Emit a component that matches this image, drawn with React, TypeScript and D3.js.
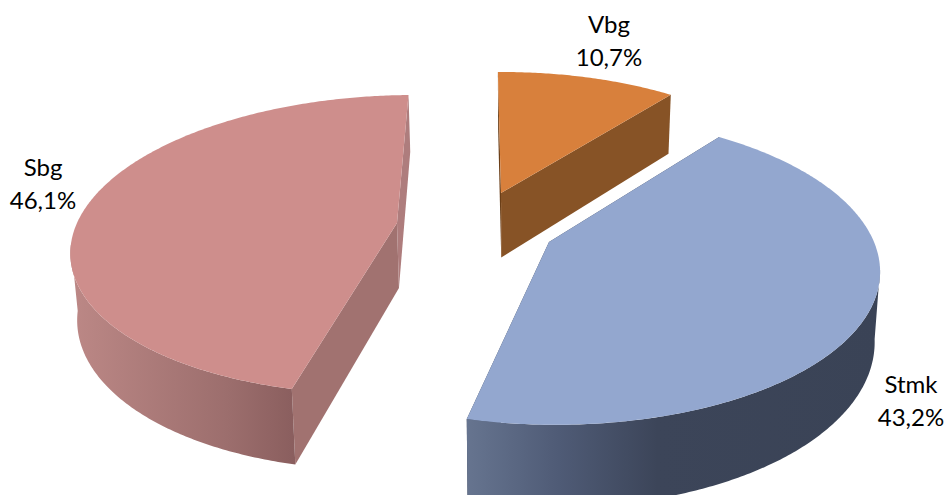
import React from "react";
import * as d3 from "d3";

const categories = ["Vbg", "Stmk", "Sbg"];
const shares = [10.7, 43.2, 46.1];
const shareLabels = ["10,7%", "43,2%", "46,1%"];

// Layout of each exploded slice: apex on screen, radii, perspective factor, depth
const apexX = [501, 549, 397];
const apexY = [193, 242, 223];
const radiusX = [303, 325, 320];
const radiusY = [135.5, 150.8, 146.4];
const tilt = [0.12, 0.175, 0.144];
const offsetX = [-15, 30, -130];
const depth = [64.5, 68, 65];
const topColors = ["#d8803c", "#93a7cf", "#ce8e8c"];
const startFaceColors = ["#6b3f18", "#3a4356", "#a17270"];
const endFaceColors = ["#875326", "#3a4356", "#ae7d7d"];
const labelX = [609, 911, 43];
const labelY = [33, 393, 176];

const W = 944;
const H = 495;
const ROTATION = (-1 * Math.PI) / 180;
const DEPTH_SCALE = 0.985;

type P = [number, number];

function project(i: number, angle: number, radial: number, lower: boolean): P {
  const u = radial * Math.sin(angle);
  const v = -radial * Math.cos(angle);
  const w = 1 - tilt[i] * v;
  const xc = apexX[i] - offsetX[i];
  let x = xc + (offsetX[i] + radiusX[i] * u) / w;
  let y = apexY[i] + (radiusY[i] * v) / w;
  if (lower) {
    x = xc + (x - xc) * DEPTH_SCALE;
    y += depth[i] / w;
  }
  return [x, y];
}

function rim(i: number, a0: number, a1: number, lower: boolean): P[] {
  const n = Math.max(2, Math.ceil(Math.abs(a1 - a0) / 0.01));
  return d3.range(n + 1).map((k) => project(i, a0 + ((a1 - a0) * k) / n, 1, lower));
}

const poly = d3.line<P>().x((d) => d[0]).y((d) => d[1]);
const closed = (pts: P[]) => (poly(pts) as string) + "Z";

export default function App() {
  const arcs = d3
    .pie<number>()
    .sort(null)
    .startAngle(ROTATION)
    .endAngle(ROTATION + 2 * Math.PI)(shares);

  return (
    <svg
      width={W}
      height={H}
      viewBox={`0 0 ${W} ${H}`}
      style={{ position: "absolute", left: 0, top: 0, background: "#fff", overflow: "hidden" }}
    >
      <defs>
        <linearGradient id="wall1" gradientUnits="userSpaceOnUse" x1={468} x2={880} y1={0} y2={0}>
          <stop offset="0" stopColor="#66748f" />
          <stop offset="0.22" stopColor="#4f5b76" />
          <stop offset="0.46" stopColor="#3c4559" />
          <stop offset="1" stopColor="#3a4356" />
        </linearGradient>
        <linearGradient id="wall2" gradientUnits="userSpaceOnUse" x1={71} x2={295} y1={0} y2={0}>
          <stop offset="0" stopColor="#bc8886" />
          <stop offset="0.7" stopColor="#9c6e6d" />
          <stop offset="1" stopColor="#8a5e5e" />
        </linearGradient>
      </defs>
      {[2, 1, 0].map((i) => {
        const { startAngle: a0, endAngle: a1 } = arcs[i];
        const apexTop = project(i, 0, 0, false);
        const apexLow = project(i, 0, 0, true);
        const s0 = project(i, a0, 1, false);
        const s0l = project(i, a0, 1, true);
        const e0 = project(i, a1, 1, false);
        const e0l = project(i, a1, 1, true);
        // front-facing part of the outer wall lies between the two silhouette angles
        const silhouette = Math.acos(-tilt[i]);
        const wa0 = Math.max(a0, silhouette);
        const wa1 = Math.min(a1, 2 * Math.PI - silhouette);
        const hasWall = wa1 > wa0;
        return (
          <g key={categories[i]}>
            <path d={closed([s0, apexTop, apexLow, s0l])} fill={startFaceColors[i]} />
            <path d={closed([e0, apexTop, apexLow, e0l])} fill={endFaceColors[i]} />
            {hasWall && (
              <path
                d={closed([...rim(i, wa0, wa1, false), ...rim(i, wa1, wa0, true)])}
                fill={`url(#wall${i})`}
              />
            )}
            <path d={closed([apexTop, ...rim(i, a0, a1, false)])} fill={topColors[i]} />
          </g>
        );
      })}
      {categories.map((c, i) => (
        <text
          key={c}
          x={labelX[i]}
          y={labelY[i]}
          textAnchor="middle"
          fontFamily="Lato, 'Open Sans', sans-serif"
          fontSize={24}
          fill="#000"
        >
          <tspan x={labelX[i]}>{c}</tspan>
          <tspan x={labelX[i]} dy={33}>
            {shareLabels[i]}
          </tspan>
        </text>
      ))}
    </svg>
  );
}
